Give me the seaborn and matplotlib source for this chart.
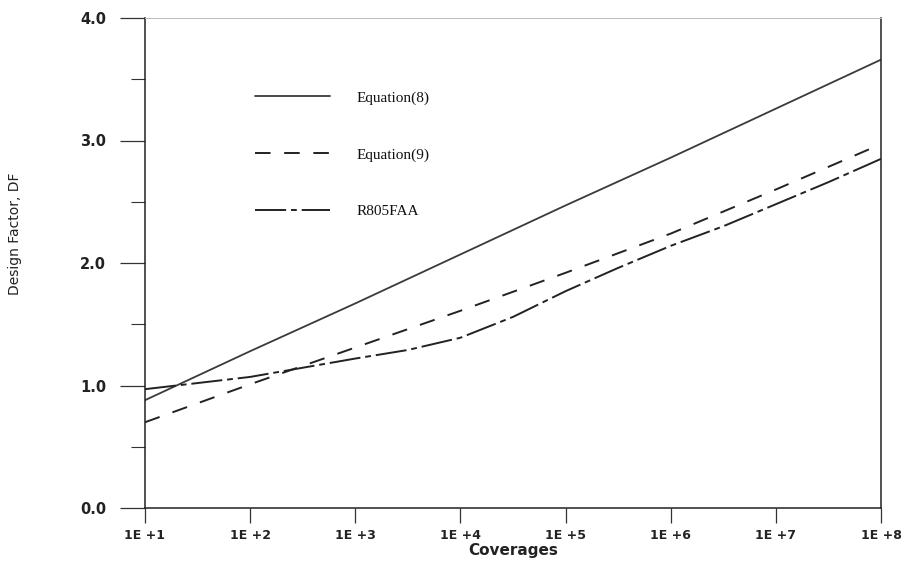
import numpy as np
import pandas as pd
import matplotlib
matplotlib.use("Agg")
import matplotlib.pyplot as plt
import seaborn as sns

# ---- data ----
eq8_log_cov = [1, 2, 3, 4, 5, 6, 7, 8]
eq8_df = [0.88, 1.28, 1.67, 2.07, 2.47, 2.86, 3.26, 3.66]

eq9_log_cov = [1, 2, 3, 4, 5, 6, 7, 8]
eq9_df = [0.70, 1.01, 1.31, 1.61, 1.92, 2.24, 2.60, 2.97]

faa_log_cov = [1, 2, 3, 3.5, 4, 4.5, 5, 5.5, 6, 6.5, 7, 7.5, 8]
faa_df = [0.97, 1.07, 1.22, 1.29, 1.39, 1.56, 1.77, 1.96, 2.14, 2.30, 2.48, 2.66, 2.85]

x_tick_exps = [1, 2, 3, 4, 5, 6, 7, 8]
x_tick_labels = ["1E +1", "1E +2", "1E +3", "1E +4", "1E +5", "1E +6", "1E +7", "1E +8"]
y_ticks = [0.0, 1.0, 2.0, 3.0, 4.0]
y_tick_labels = ["0.0", "1.0", "2.0", "3.0", "4.0"]

labels = ["Equation(8)", "Equation(9)", "R805FAA"]

sns.set_theme(style="white")
plt.rcParams["font.family"] = ["DejaVu Sans"]

fig = plt.figure(figsize=(9.06, 5.68), dpi=100)
ax = fig.add_axes([145 / 906, 1 - 508 / 568, (881 - 145) / 906, (508 - 18) / 568])

d8 = pd.DataFrame({"cov": np.power(10.0, eq8_log_cov), "df": eq8_df})
d9 = pd.DataFrame({"cov": np.power(10.0, eq9_log_cov), "df": eq9_df})
dfaa = pd.DataFrame({"cov": np.power(10.0, faa_log_cov), "df": faa_df})

sns.lineplot(data=d8, x="cov", y="df", ax=ax, color="#3a3a3a", lw=1.3,
             linestyle="-", label=labels[0])
sns.lineplot(data=d9, x="cov", y="df", ax=ax, color="#222222", lw=1.4,
             linestyle=(0, (8, 7)), label=labels[1])
sns.lineplot(data=dfaa, x="cov", y="df", ax=ax, color="#222222", lw=1.4,
             linestyle=(0, (16, 2.5, 3, 2.5)), label=labels[2])

ax.set_xscale("log")
ax.set_xlim(10, 1e8)
ax.set_ylim(0, 4)

ax.set_xticks([10.0 ** e for e in x_tick_exps])
ax.set_xticklabels(x_tick_labels)
ax.xaxis.set_minor_locator(matplotlib.ticker.NullLocator())
ax.set_yticks(y_ticks)
ax.set_yticklabels(y_tick_labels)
ax.set_yticks([0.5, 1.5, 2.5, 3.5], minor=True)

ax.tick_params(axis="y", which="major", direction="out", length=18, width=0.9,
               color="#333333", pad=10, labelsize=10.5, left=True)
ax.tick_params(axis="y", which="minor", direction="out", length=10, width=0.8,
               color="#333333", left=True)
ax.tick_params(axis="x", which="major", direction="out", length=11, width=0.9,
               color="#333333", pad=4, labelsize=9, bottom=True)
for t in ax.get_xticklabels() + ax.get_yticklabels():
    t.set_fontweight("bold")
    t.set_color("#222222")

for side, sp in ax.spines.items():
    sp.set_visible(True)
    sp.set_color("#222222")
    sp.set_linewidth(1.1)
ax.spines["top"].set_color("#bbbbbb")
ax.spines["top"].set_linewidth(0.7)

ax.set_xlabel("Coverages", fontsize=11, fontweight="bold", color="#222222")
ax.xaxis.set_label_coords(0.50, -0.072)
ax.set_ylabel("Design Factor, DF", fontsize=10, color="#222222")
ax.yaxis.set_label_coords(-0.167, 0.559)

leg = ax.legend(loc="upper left", bbox_to_anchor=((255 - 145) / 736, (508 - 91) / 490),
                frameon=False, borderpad=0, borderaxespad=0,
                handlelength=4.9, handletextpad=1.75, labelspacing=2.8,
                prop={"family": "Liberation Serif", "size": 11})
for t in leg.get_texts():
    t.set_color("#111111")

fig.savefig("out.png", dpi=100)
